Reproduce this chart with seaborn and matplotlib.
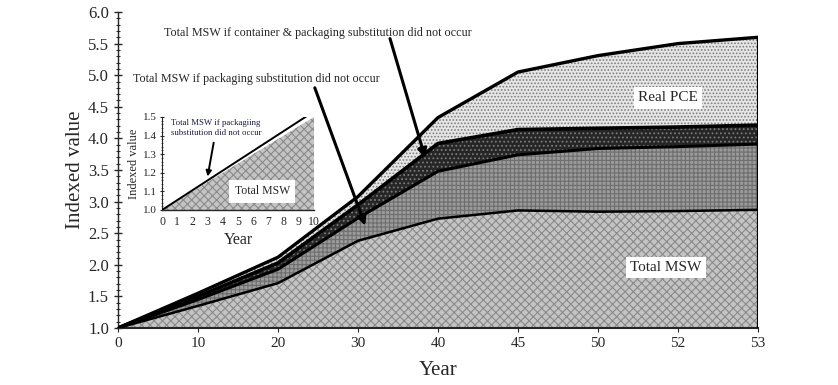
import matplotlib
matplotlib.use("Agg")
import matplotlib.pyplot as plt
import seaborn as sns
import numpy as np
import pandas as pd

# ---- data ----
years = [0, 10, 20, 30, 40, 45, 50, 52, 53]
total_msw = [1.0, 1.35, 1.71, 2.38, 2.73, 2.86, 2.84, 2.85, 2.87]
msw_no_pkg = [1.0, 1.45, 1.93, 2.74, 3.48, 3.74, 3.84, 3.87, 3.91]
msw_no_cont_pkg = [1.0, 1.50, 2.03, 2.95, 3.92, 4.14, 4.16, 4.18, 4.21]
real_pce = [1.0, 1.55, 2.12, 3.08, 4.33, 5.05, 5.31, 5.50, 5.60]

inset_years = [0, 10]
inset_msw = [1.0, 1.5]
inset_no_pkg = [1.0, 1.53]

y_ticks = [1.0, 1.5, 2.0, 2.5, 3.0, 3.5, 4.0, 4.5, 5.0, 5.5, 6.0]
inset_y_ticks = [1.0, 1.1, 1.2, 1.3, 1.4, 1.5]
inset_x_ticks = list(range(0, 11))

sns.set_style("ticks")
plt.rcParams['font.family'] = ['Liberation Serif', 'DejaVu Serif']
plt.rcParams['hatch.linewidth'] = 0.8

fig = plt.figure(figsize=(8.38, 3.85), dpi=100)
ax = fig.add_axes([118/838, 1-328/385, 640/838, 316/385])

pos = np.arange(len(years))
df = pd.DataFrame({"pos": pos, "msw": total_msw, "pkg": msw_no_pkg,
                   "cont": msw_no_cont_pkg, "pce": real_pce})
base = y_ticks[0]

ax.fill_between(df.pos, base, df.msw, facecolor="#c4c4c4", edgecolor="#8a8a8a",
                hatch="xxxx", linewidth=0, zorder=1)
ax.fill_between(df.pos, df.msw, df.pkg, facecolor="#9a9a9a", edgecolor="#6e6e6e",
                hatch="++++", linewidth=0, zorder=1)
ax.fill_between(df.pos, df.pkg, df.cont, facecolor="#262626", edgecolor="#7a7a7a",
                hatch="....", linewidth=0, zorder=1)
ax.fill_between(df.pos, df.cont, df.pce, facecolor="#e6e6e6", edgecolor="#7c7c7c",
                hatch=".....", linewidth=0, zorder=1)

sns.lineplot(data=df, x="pos", y="msw", color="black", lw=1.8, ax=ax, zorder=3)
sns.lineplot(data=df, x="pos", y="pkg", color="black", lw=2.2, ax=ax, zorder=3)
sns.lineplot(data=df, x="pos", y="cont", color="black", lw=2.6, ax=ax, zorder=3)
sns.lineplot(data=df, x="pos", y="pce", color="black", lw=2.4, ax=ax, zorder=3)
ax.plot([pos[-1], pos[-1]], [base, real_pce[-1]], color="black", lw=1.6, zorder=3)

ax.set_xlim(pos[0], pos[-1])
ax.set_ylim(y_ticks[0], y_ticks[-1])
ax.set_xticks(pos)
ax.set_xticklabels([str(y) for y in years], fontsize=11)
ax.set_yticks(y_ticks)
ax.set_yticklabels([f"{v:.1f}" for v in y_ticks], fontsize=12)
ax.yaxis.set_minor_locator(matplotlib.ticker.MultipleLocator(0.1))
ax.tick_params(axis='y', which='major', direction='inout', length=6, width=1)
ax.tick_params(axis='y', which='minor', direction='inout', length=3, width=0.8)
ax.tick_params(axis='x', which='major', direction='out', length=3, width=0.8)
for s in ["top", "right"]:
    ax.spines[s].set_visible(False)
ax.spines["left"].set_linewidth(1.0)
ax.spines["bottom"].set_linewidth(1.5)
ax.set_xlabel("Year", fontsize=15, labelpad=8)
ax.set_ylabel("Indexed value", fontsize=15, labelpad=2)

# annotations
arrow_kw = dict(arrowstyle="-|>", color="black", lw=2.2, mutation_scale=13,
                shrinkA=0, shrinkB=0)
ax.text(2.5, 5.67, "Total MSW if container & packaging substitution did not occur",
        fontsize=8.7, ha="center", va="center", zorder=5)
ax.annotate("", xy=(3.84, 3.69), xytext=(3.4, 5.58), arrowprops=arrow_kw, zorder=5)
ax.text(1.73, 4.94, "Total MSW if packaging substitution did not occur",
        fontsize=8.7, ha="center", va="center", zorder=5)
ax.annotate("", xy=(3.09, 2.62), xytext=(2.46, 4.80), arrowprops=arrow_kw, zorder=5)
ax.text(6.88, 4.64, "Real PCE", fontsize=11, ha="center", va="center",
        bbox=dict(facecolor="white", edgecolor="none", pad=3), zorder=4)
ax.text(6.85, 1.96, "Total MSW", fontsize=11, ha="center", va="center",
        bbox=dict(facecolor="white", edgecolor="none", pad=3), zorder=4)

# inset
ins = fig.add_axes([162/838, 1-210/385, 152/838, 93/385])
ins.set_facecolor("white")
idf = pd.DataFrame({"x": inset_years, "msw": inset_msw, "pkg": inset_no_pkg})
ins.fill_between(idf.x, inset_y_ticks[0], idf.msw, facecolor="#c4c4c4",
                 edgecolor="#8a8a8a", hatch="xxxx", linewidth=0, zorder=1)
sns.lineplot(data=idf, x="x", y="pkg", color="black", lw=1.4, ax=ins, zorder=3)
ins.set_xlim(0, 10)
ins.set_ylim(inset_y_ticks[0], inset_y_ticks[-1])
ins.set_xticks(inset_x_ticks)
ins.set_xticklabels([str(v) for v in inset_x_ticks], fontsize=8.5)
ins.set_yticks(inset_y_ticks)
ins.set_yticklabels([f"{v:.1f}" for v in inset_y_ticks], fontsize=8)
ins.yaxis.set_minor_locator(matplotlib.ticker.MultipleLocator(0.02))
ins.tick_params(axis='y', which='major', direction='inout', length=3, width=0.8, pad=2)
ins.tick_params(axis='y', which='minor', direction='inout', length=1.5, width=0.5)
ins.tick_params(axis='x', which='major', direction='out', length=0, pad=4)
for s in ["top", "right"]:
    ins.spines[s].set_visible(False)
ins.spines["left"].set_linewidth(0.8)
ins.spines["bottom"].set_linewidth(1.0)
ins.set_xlabel("Year", fontsize=11.5, labelpad=3)
ins.set_ylabel("Indexed value", fontsize=9, labelpad=2)
ins.annotate("Total MSW if packagiing\nsubstitution did not occur",
             xy=(3.0, 1.18), xytext=(0.6, 1.49), fontsize=6.3, color="#1a1a40",
             ha="left", va="top", linespacing=1.3,
             arrowprops=dict(arrowstyle="-|>", color="black", lw=1.4, mutation_scale=8,
                             shrinkA=2, shrinkB=0), zorder=5)
ins.text(6.6, 1.1, "Total MSW", fontsize=8.5, ha="center", va="center",
         bbox=dict(facecolor="white", edgecolor="none", pad=4), zorder=4)

fig.savefig("out.png", dpi=100)
